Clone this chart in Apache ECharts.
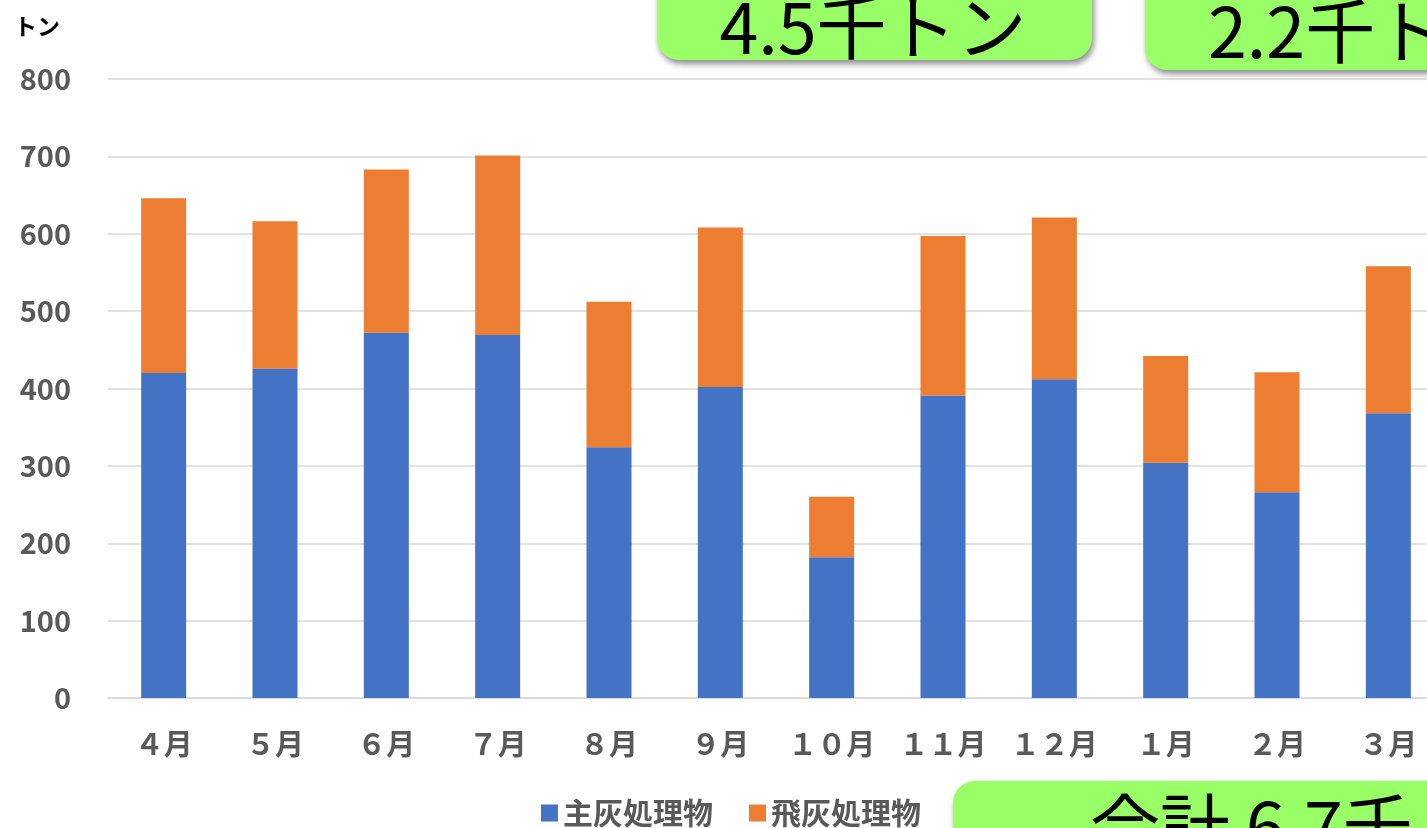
<!DOCTYPE html>
<html>
<head>
<meta charset="utf-8">
<script src="https://cdn.jsdelivr.net/npm/echarts@6/dist/echarts.min.js"></script>
<style>
html,body{margin:0;padding:0;background:#fff;}
#chart{width:1427px;height:828px;}
</style>
</head>
<body>
<div id="chart"></div>
<script>
const categories = ['４月','５月','６月','７月','８月','９月','１０月','１１月','１２月','１月','２月','３月'];
const mainAsh = [420, 426, 472, 469, 324, 402, 182, 391, 412, 304, 266, 368];
const flyAsh  = [226, 190, 211, 232, 188, 206, 78, 206, 209, 138, 155, 190];
const yTicks = { min: 0, max: 800, interval: 100 };
const seriesNames = ['主灰処理物', '飛灰処理物'];
const unitLabel = 'トン';
const boxTexts = ['4.5千トン', '2.2千トン', '合計 6.7千トン'];

const FONT = '"Noto Sans CJK JP", "Noto Sans", sans-serif';
const chart = echarts.init(document.getElementById('chart'), null, {renderer: 'canvas'});

const boxStyle = {
  fill: '#99FF66',
  shadowBlur: 6,
  shadowOffsetX: 2,
  shadowOffsetY: 4,
  shadowColor: 'rgba(0,0,0,0.45)'
};
const boxTextStyle = {
  fill: '#000',
  fontFamily: FONT,
  fontSize: 70,
  fontWeight: 'normal'
};

chart.setOption({
  animation: false,
  backgroundColor: '#fff',
  grid: { left: 108, right: -17, top: 79, bottom: 130, containLabel: false, outerBoundsMode: 'none' },
  xAxis: {
    type: 'category',
    data: categories,
    axisTick: { show: false },
    axisLine: { lineStyle: { color: '#D9D9D9', width: 1.5 } },
    axisLabel: {
      color: '#595959', fontFamily: FONT, fontSize: 29, fontWeight: 'bold',
      margin: 31, interval: 0
    }
  },
  yAxis: {
    type: 'value',
    min: yTicks.min, max: yTicks.max, interval: yTicks.interval,
    axisLine: { show: false },
    axisTick: { show: false },
    splitLine: { lineStyle: { color: '#D9D9D9', width: 1.5 } },
    axisLabel: {
      color: '#595959', fontFamily: FONT, fontSize: 29, fontWeight: 'bold',
      margin: 37
    }
  },
  legend: {
    left: 541, top: 798, padding: 0,
    itemWidth: 17, itemHeight: 17, itemGap: 36,
    icon: 'rect',
    textStyle: { color: '#595959', fontFamily: FONT, fontSize: 30, fontWeight: 'bold', lineHeight: 30 },
    data: seriesNames
  },
  series: [
    { name: seriesNames[0], type: 'bar', stack: 't', data: mainAsh, barWidth: 45,
      itemStyle: { color: '#4472C4' } },
    { name: seriesNames[1], type: 'bar', stack: 't', data: flyAsh, barWidth: 45,
      itemStyle: { color: '#ED7D31' } }
  ],
  graphic: [
    { type: 'text', left: 14, top: 15, z: 10,
      style: { text: unitLabel, fill: '#000', fontFamily: FONT, fontSize: 23, fontWeight: 'bold' } },
    { type: 'rect', z: 20, shape: { x: 657, y: -40, width: 435, height: 100, r: 22 }, style: boxStyle },
    { type: 'text', z: 21, x: 873, y: 27,
      style: Object.assign({ text: boxTexts[0], align: 'center', verticalAlign: 'middle' }, boxTextStyle) },
    { type: 'rect', z: 20, shape: { x: 1145, y: -30, width: 420, height: 100, r: 22 }, style: boxStyle },
    { type: 'text', z: 21, x: 1208, y: 31,
      style: Object.assign({ text: boxTexts[1], align: 'left', verticalAlign: 'middle' }, boxTextStyle) },
    { type: 'rect', z: 20, shape: { x: 953, y: 781, width: 620, height: 100, r: 22 }, style: boxStyle },
    { type: 'text', z: 21, x: 1090, y: 826,
      style: Object.assign({ text: boxTexts[2], align: 'left', verticalAlign: 'middle' }, boxTextStyle) }
  ]
});
</script>
</body>
</html>
